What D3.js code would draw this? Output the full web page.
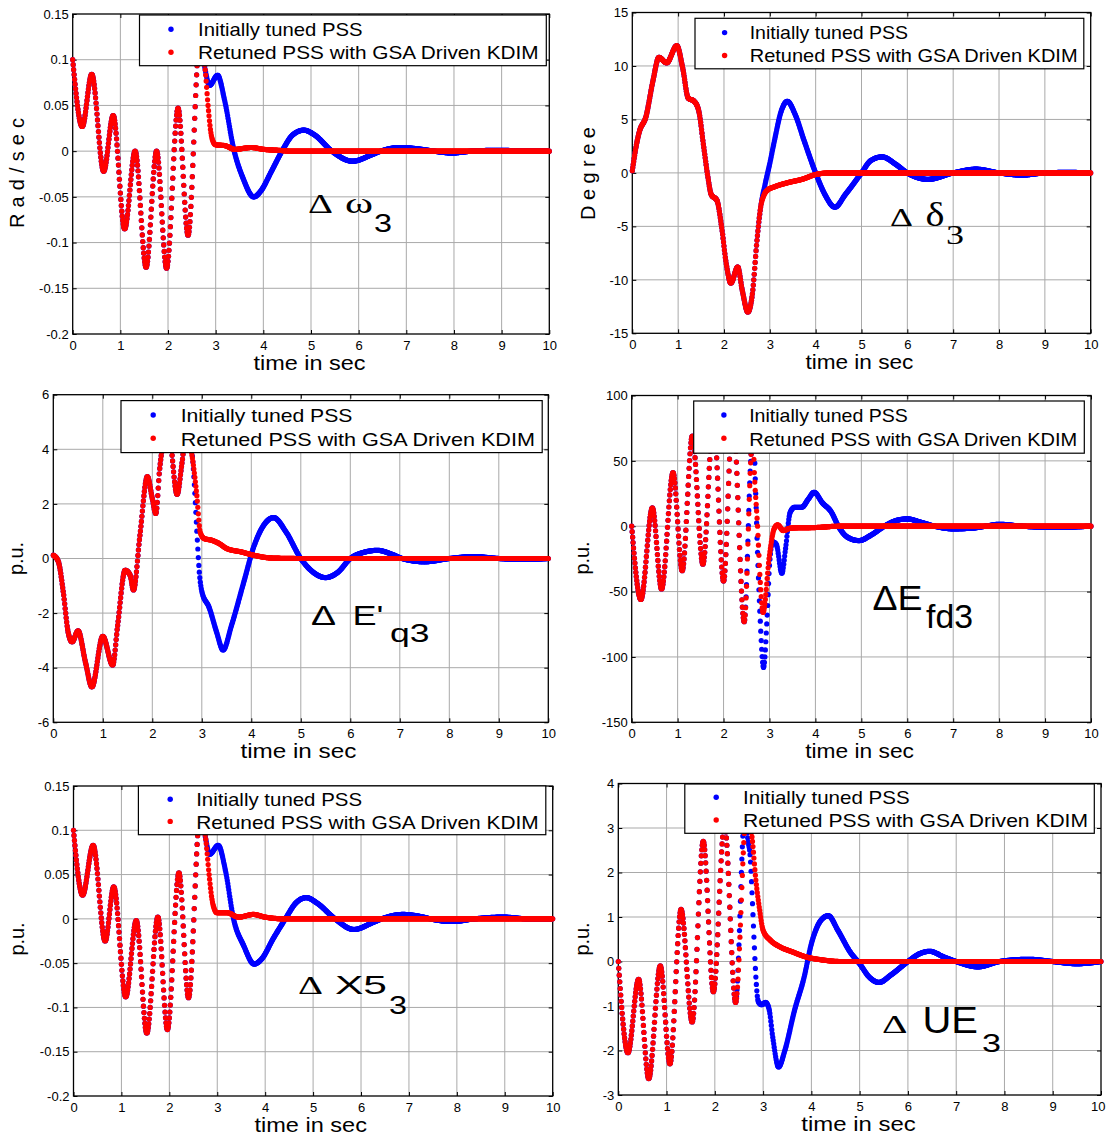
<!DOCTYPE html>
<html>
<head>
<meta charset="utf-8">
<script src="https://cdn.jsdelivr.net/npm/d3@7"></script>
<style>
  html, body { margin: 0; padding: 0; background: #fff; }
  svg { display: block; }
</style>
</head>
<body>
<svg id="fig" width="1106" height="1138"></svg>
<script>
// ---------------------------------------------------------------------------
// Machine-3 responses: initially tuned PSS vs. retuned PSS (GSA driven KDIM).
// Each response is given as [time (s), value] key points; both controllers
// share the same trajectory until the retuned stabiliser takes effect.
// ---------------------------------------------------------------------------
const seriesNames = ["Initially tuned PSS", "Retuned PSS with GSA Driven KDIM"];
const timeTicks = [0, 1, 2, 3, 4, 5, 6, 7, 8, 9, 10];

// Δω3 (rad/s)
const omegaTicks = [-0.2, -0.15, -0.1, -0.05, 0, 0.05, 0.1, 0.15];
const omegaCommon = [
  [0, 0.1], [0.2, 0.027], [0.4, 0.084], [0.65, -0.022], [0.85, 0.039], [1.09, -0.085],
  [1.31, 0.0], [1.54, -0.127], [1.76, 0.0], [1.97, -0.128], [2.21, 0.047], [2.42, -0.092],
  [2.67, 0.125], [2.78, 0.089]
];
const omegaInitialTail = [
  [2.87, 0.072], [3.04, 0.083], [3.19, 0.055], [3.38, 0.002], [3.57, -0.029], [3.8, -0.05],
  [3.94, -0.044], [4.17, -0.022], [4.39, 0], [4.62, 0.018], [4.85, 0.023], [5.07, 0.018],
  [5.44, 0], [5.87, -0.011], [6.27, -0.004], [6.46, 0], [6.87, 0.004], [7.32, 0.002],
  [7.58, 0], [7.96, -0.002], [8.37, 0], [8.97, 0.001], [9.5, 0], [10, 0]
];
const omegaRetunedTail = [
  [2.84, 0.05], [2.9, 0.02], [2.95, 0.01], [3.0, 0.007], [3.2, 0.006], [3.4, 0.002],
  [3.75, 0.004], [4.0, 0.002], [4.3, 0.001], [4.6, 0], [10, 0]
];

// Δδ3 (degree)
const deltaTicks = [-15, -10, -5, 0, 5, 10, 15];
const deltaCommon = [
  [0, 0.2], [0.08, 2.4], [0.15, 3.8], [0.3, 5.3], [0.45, 8.6], [0.58, 10.8], [0.75, 10.3],
  [0.97, 11.9], [1.1, 9.8], [1.22, 7.0], [1.35, 6.7], [1.45, 5.8], [1.55, 2.7], [1.65, -0.4],
  [1.72, -2.0], [1.85, -2.6], [1.95, -5.1], [2.05, -8.5], [2.15, -10.3], [2.3, -8.8],
  [2.4, -11.0], [2.52, -13.0], [2.62, -11.3], [2.72, -6.3], [2.8, -3.2]
];
const deltaInitialTail = [
  [2.9, -1.0], [3.0, 0.9], [3.1, 3.0], [3.25, 5.8], [3.38, 6.7], [3.55, 5.5], [3.75, 3.0],
  [4.0, 0], [4.2, -2.0], [4.42, -3.2], [4.65, -2.0], [5.0, 0], [5.2, 1.15], [5.45, 1.5],
  [5.75, 0.8], [6.0, 0], [6.45, -0.6], [7.0, 0], [7.5, 0.35], [8.0, 0], [8.5, -0.2],
  [9.0, 0], [9.5, 0.05], [10, 0]
];
const deltaRetunedTail = [
  [2.87, -2.1], [2.95, -1.6], [3.1, -1.3], [3.4, -0.9], [3.7, -0.6], [4.0, -0.15],
  [4.3, 0], [10, 0]
];

// ΔE'q3 (p.u.)
const eqTicks = [-6, -4, -2, 0, 2, 4, 6];
const eqCommon = [
  [0, 0.12], [0.1, -0.1], [0.2, -1.2], [0.3, -2.7], [0.38, -3.05], [0.5, -2.65], [0.65, -3.8],
  [0.78, -4.7], [1.0, -2.85], [1.2, -3.9], [1.3, -2.45], [1.45, -0.43], [1.55, -0.6],
  [1.62, -1.15], [1.75, 0.85], [1.9, 3.0], [2.0, 2.2], [2.07, 1.65], [2.15, 3.3],
  [2.32, 4.8], [2.5, 2.35], [2.6, 3.5], [2.68, 4.6]
];
const eqInitialTail = [
  [2.8, 3.9], [2.85, 2.7], [2.9, 1.0], [2.95, -0.5], [3.0, -1.2], [3.15, -1.8], [3.3, -2.7],
  [3.43, -3.35], [3.6, -2.45], [3.85, -0.85], [4.05, 0.43], [4.25, 1.22], [4.45, 1.5],
  [4.7, 0.98], [5.0, 0], [5.25, -0.5], [5.5, -0.7], [5.75, -0.5], [6.0, 0], [6.3, 0.24],
  [6.55, 0.3], [6.85, 0.15], [7.05, 0], [7.5, -0.12], [8.0, 0], [8.5, 0.07], [9.0, 0],
  [9.5, -0.03], [10, 0]
];
const eqRetunedTail = [
  [2.8, 3.8], [2.9, 2.3], [2.97, 0.95], [3.05, 0.73], [3.2, 0.67], [3.35, 0.55], [3.5, 0.37],
  [3.8, 0.24], [4.1, 0.1], [4.4, 0.02], [5, 0], [10, 0]
];

// ΔEfd3 (p.u.)
const efdTicks = [-150, -100, -50, 0, 50, 100];
const efdCommon = [
  [0, 0], [0.2, -56], [0.45, 14], [0.65, -48], [0.9, 41], [1.1, -34], [1.32, 69],
  [1.55, -29], [1.78, 82], [2.0, -42], [2.2, 88], [2.45, -73], [2.6, 55]
];
const efdInitialTail = [
  [2.65, 70], [2.7, 25], [2.74, -20], [2.79, -65], [2.87, -108], [2.95, -68], [3.0, -30],
  [3.07, -12], [3.15, -14], [3.27, -36], [3.35, -17], [3.45, 10.7], [3.55, 14.5], [3.7, 14.5],
  [3.85, 21], [3.97, 26], [4.15, 18], [4.35, 10.7], [4.5, 0], [4.7, -8.4], [4.95, -11],
  [5.2, -7], [5.5, 0], [5.75, 4.3], [6.0, 5.6], [6.3, 3], [6.6, 0], [7.0, -2], [7.4, -1.5],
  [7.7, 0], [8.0, 1.5], [8.5, 0], [9.2, -0.8], [10, 0]
];
const efdRetunedTail = [
  [2.635, 72], [2.67, 41], [2.74, 0], [2.8, -43], [2.86, -66], [3.0, -22], [3.1, -2],
  [3.18, 1], [3.3, -3.3], [3.45, -1.5], [3.6, -1.2], [4.0, -1], [4.5, 0], [10, 0]
];

// ΔX5_3 (p.u.)
const x5Ticks = [-0.2, -0.15, -0.1, -0.05, 0, 0.05, 0.1, 0.15];
const x5Common = [
  [0, 0.1], [0.19, 0.027], [0.41, 0.083], [0.66, -0.025], [0.84, 0.036], [1.09, -0.088],
  [1.31, -0.002], [1.53, -0.129], [1.76, 0.002], [1.96, -0.125], [2.2, 0.052], [2.4, -0.089],
  [2.65, 0.125], [2.76, 0.09]
];
const x5InitialTail = [
  [2.84, 0.073], [3.02, 0.083], [3.17, 0.055], [3.34, 0.0], [3.55, -0.03], [3.77, -0.051],
  [3.93, -0.045], [4.17, -0.022], [4.42, 0], [4.64, 0.018], [4.86, 0.024], [5.08, 0.018],
  [5.46, 0], [5.85, -0.012], [6.25, -0.004], [6.43, 0], [6.87, 0.005], [7.3, 0.002],
  [7.45, 0], [7.91, -0.003], [8.36, 0], [8.96, 0.002], [9.5, 0], [10, 0]
];
const x5RetunedTail = [
  [2.83, 0.05], [2.89, 0.022], [2.94, 0.011], [2.99, 0.007], [3.2, 0.007], [3.45, 0.002],
  [3.75, 0.005], [4.0, 0.002], [4.4, 0], [10, 0]
];

// ΔUE3 (p.u.)
const ueTicks = [-3, -2, -1, 0, 1, 2, 3, 4];
const ueCommon = [
  [0, 0], [0.2, -2.05], [0.42, -0.4], [0.63, -2.63], [0.87, -0.1], [1.07, -2.3], [1.3, 1.17],
  [1.53, -1.36], [1.76, 2.7], [1.97, -0.68], [2.2, 3.1], [2.43, -0.92]
];
const ueInitialTail = [
  [2.62, 3.3], [2.69, 2.69], [2.73, 2.4], [2.78, 1.3], [2.81, 0.55], [2.85, -0.35],
  [2.9, -0.9], [2.97, -0.97], [3.05, -0.92], [3.12, -1.05], [3.2, -1.7], [3.32, -2.37],
  [3.45, -2.0], [3.65, -1.1], [3.85, -0.35], [4.0, 0.4], [4.2, 0.93], [4.35, 1.03],
  [4.55, 0.7], [4.8, 0.22], [5.0, -0.05], [5.2, -0.35], [5.4, -0.47], [5.65, -0.3],
  [6.0, 0], [6.25, 0.18], [6.45, 0.23], [6.75, 0.1], [7.0, 0], [7.45, -0.12], [7.9, 0],
  [8.5, 0.05], [9.0, 0], [9.5, -0.05], [10, 0]
];
const ueRetunedTail = [
  [2.66, 3.4], [2.77, 2.8], [2.85, 1.83], [2.93, 1.15], [3.0, 0.7], [3.15, 0.48], [3.35, 0.33],
  [3.6, 0.22], [3.9, 0.1], [4.2, 0.04], [4.6, 0], [10, 0]
];

// ---------------------------------------------------------------------------
// Figure layout (pixels) and styling
// ---------------------------------------------------------------------------
const SANS = "'Liberation Sans', Arial, Helvetica, sans-serif";
const SERIF = "'Liberation Serif', 'Times New Roman', Times, serif";
const COLORS = ["#0000ff", "#ff0000"];
const GRID = "#a9a9a9";
const DT = 0.01;          // solver output step, one marker per step
const DOT_R = 2.6;
const FIG_W = 1106;

const panels = [
  {
    ticks: omegaTicks,
    series: [omegaCommon.concat(omegaInitialTail), omegaCommon.concat(omegaRetunedTail)],
    box: { L: 72.7, R: 549.3, T: 14, B: 334 },
    ylabel: { text: "Rad/sec", x: 23.5, y: 173, len: 110 },
    xtitle: { cx: 309.5, w: 112 },
    legend: { x0: 139.5, y0: 15, x1: 546.3, y1: 65.7, mx: 171, my: [29.3, 52.3], tx: 198, ty: [36, 59.3], tw: [164.6, 340.6] },
    note: [
      { t: "\u0394", f: SERIF, s: 27, x: 308, y: 213, w: 25 },
      { t: "\u03c9", f: SERIF, s: 30, x: 345, y: 213, w: 28 },
      { t: "3", f: SANS, s: 26, x: 374, y: 232, w: 18 }
    ]
  },
  {
    ticks: deltaTicks,
    series: [deltaCommon.concat(deltaInitialTail), deltaCommon.concat(deltaRetunedTail)],
    box: { L: 632.3, R: 1090.7, T: 12.5, B: 333.3 },
    ylabel: { text: "Degree", x: 595, y: 173.5, len: 93 },
    xtitle: { cx: 859.4, w: 108 },
    legend: { x0: 695, y0: 18.3, x1: 1083.8, y1: 68.8, mx: 724.6, my: [32.6, 55.5], tx: 749.7, ty: [39.2, 61.5], tw: [158.4, 327.9] },
    note: [
      { t: "\u0394", f: SERIF, s: 26, x: 890, y: 226, w: 23 },
      { t: "\u03b4", f: SERIF, s: 33, x: 925.5, y: 226, w: 19 },
      { t: "3", f: SERIF, s: 28, x: 946, y: 244, w: 18 }
    ]
  },
  {
    ticks: eqTicks,
    series: [eqCommon.concat(eqInitialTail), eqCommon.concat(eqRetunedTail)],
    box: { L: 53.3, R: 548.3, T: 394.7, B: 722.3 },
    ylabel: { text: "p.u.", x: 23, y: 558.5, len: 33 },
    xtitle: { cx: 298.4, w: 116 },
    legend: { x0: 121, y0: 400.6, x1: 542.2, y1: 452.6, mx: 153.2, my: [415, 438.3], tx: 180.7, ty: [422.3, 445.6], tw: [171.8, 354.3] },
    note: [
      { t: "\u0394", f: SANS, s: 27, x: 311, y: 625, w: 25 },
      { t: "E'", f: SANS, s: 27, x: 352.5, y: 625, w: 31 },
      { t: "q3", f: SANS, s: 25, x: 390, y: 642, w: 39.5 }
    ]
  },
  {
    ticks: efdTicks,
    series: [efdCommon.concat(efdInitialTail), efdCommon.concat(efdRetunedTail)],
    box: { L: 631.7, R: 1091, T: 395.5, B: 722.3 },
    ylabel: { text: "p.u.", x: 589, y: 558, len: 33 },
    xtitle: { cx: 859.6, w: 108.7 },
    legend: { x0: 693.7, y0: 401, x1: 1084.3, y1: 453.2, mx: 723.9, my: [415, 438.2], tx: 749.2, ty: [422.3, 445.9], tw: [158.7, 328.1] },
    note: [
      { t: "\u0394E", f: SANS, s: 35, x: 872.5, y: 610, w: 50 },
      { t: "fd3", f: SANS, s: 33, x: 926, y: 628, w: 47 }
    ]
  },
  {
    ticks: x5Ticks,
    series: [x5Common.concat(x5InitialTail), x5Common.concat(x5RetunedTail)],
    box: { L: 73.5, R: 552.7, T: 786, B: 1096 },
    ylabel: { text: "p.u.", x: 23.5, y: 939, len: 33 },
    xtitle: { cx: 310.7, w: 112.4 },
    legend: { x0: 138.4, y0: 785.9, x1: 545.8, y1: 834.7, mx: 170.2, my: [799.2, 821.4], tx: 196.2, ty: [805.8, 828.7], tw: [165.9, 342.5] },
    note: [
      { t: "\u0394", f: SERIF, s: 26, x: 298, y: 994, w: 25 },
      { t: "X5", f: SANS, s: 26, x: 335, y: 994, w: 52 },
      { t: "3", f: SANS, s: 26, x: 389, y: 1013.7, w: 18 }
    ]
  },
  {
    ticks: ueTicks,
    series: [ueCommon.concat(ueInitialTail), ueCommon.concat(ueRetunedTail)],
    box: { L: 618.3, R: 1101, T: 783.5, B: 1095 },
    ylabel: { text: "p.u.", x: 589, y: 939, len: 33 },
    xtitle: { cx: 858.5, w: 114.3 },
    legend: { x0: 684.8, y0: 784, x1: 1094.3, y1: 833.3, mx: 716.2, my: [797.3, 820], tx: 743, ty: [804, 827.3], tw: [166.6, 345] },
    note: [
      { t: "\u0394", f: SERIF, s: 25, x: 882, y: 1033, w: 25.5 },
      { t: "UE", f: SANS, s: 36, x: 922.5, y: 1033, w: 55.5 },
      { t: "3", f: SANS, s: 26, x: 982, y: 1052, w: 19 }
    ]
  }
];

// ---------------------------------------------------------------------------
// Helpers
// ---------------------------------------------------------------------------
function bez(p0, p1, p2, p3, u) {
  const v = 1 - u;
  return v * v * v * p0 + 3 * v * v * u * p1 + 3 * v * u * u * p2 + u * u * u * p3;
}

// Trace the monotone curve through the key points and return marker
// positions at every solver step along it.
function markersAlongCurve(points, x, y) {
  const segs = [];
  let px = 0, py = 0;
  const ctx = {
    moveTo(a, b) { px = a; py = b; },
    lineTo(a, b) {
      segs.push([px, py, px + (a - px) / 3, py + (b - py) / 3, px + 2 * (a - px) / 3, py + 2 * (b - py) / 3, a, b]);
      px = a; py = b;
    },
    bezierCurveTo(c1x, c1y, c2x, c2y, a, b) {
      segs.push([px, py, c1x, c1y, c2x, c2y, a, b]);
      px = a; py = b;
    },
    closePath() {}
  };
  d3.line().x(d => x(d[0])).y(d => y(d[1])).curve(d3.curveMonotoneX).context(ctx)(points);

  const [t0, t1] = x.domain();
  const n = Math.round((t1 - t0) / DT);
  const out = [];
  let k = 0;
  for (let i = 0; i <= n; i++) {
    const X = x(t0 + i * DT);
    while (k < segs.length - 1 && segs[k][6] < X) k++;
    const s = segs[k];
    let lo = 0, hi = 1;
    for (let it = 0; it < 28; it++) {
      const mid = (lo + hi) / 2;
      if (bez(s[0], s[2], s[4], s[6], mid) < X) lo = mid; else hi = mid;
    }
    const u = (lo + hi) / 2;
    out.push([X, bez(s[1], s[3], s[5], s[7], u)]);
  }
  return out;
}

const fmt = v => String(+v.toFixed(3));

// ---------------------------------------------------------------------------
// Drawing
// ---------------------------------------------------------------------------
const svg = d3.select("#fig");
svg.append("rect").attr("width", FIG_W).attr("height", 1138).attr("fill", "#fff");

panels.forEach(p => {
  const { L, R, T, B } = p.box;
  const x = d3.scaleLinear().domain([0, 10]).range([L, R]);
  const y = d3.scaleLinear().domain(d3.extent(p.ticks)).range([B, T]);
  const g = svg.append("g");

  // grid
  const grid = g.append("g").attr("stroke", GRID).attr("stroke-width", 1);
  grid.selectAll("line.gx").data(timeTicks.slice(1, -1)).join("line")
    .attr("x1", d => x(d)).attr("x2", d => x(d)).attr("y1", T).attr("y2", B);
  grid.selectAll("line.gy").data(p.ticks.slice(1, -1)).join("line")
    .attr("y1", d => y(d)).attr("y2", d => y(d)).attr("x1", L).attr("x2", R);

  // axes with inward ticks on all four sides
  const ax = (axis, tx, ty) => {
    const a = g.append("g").attr("transform", `translate(${tx},${ty})`).call(axis);
    a.select(".domain").remove();
    a.attr("font-family", SANS).attr("font-size", 13);
    a.selectAll("text").attr("fill", "#000");
    return a;
  };
  const xb = ax(d3.axisBottom(x).tickValues(timeTicks).tickFormat(fmt).tickSizeInner(-4).tickSizeOuter(0).tickPadding(6.5), 0, B);
  ax(d3.axisLeft(y).tickValues(p.ticks).tickFormat(fmt).tickSizeInner(-4).tickSizeOuter(0).tickPadding(4), L, 0);
  ax(d3.axisTop(x).tickValues(timeTicks).tickFormat("").tickSizeInner(-4).tickSizeOuter(0), 0, T);
  ax(d3.axisRight(y).tickValues(p.ticks).tickFormat("").tickSizeInner(-4).tickSizeOuter(0), R, 0);

  // keep the last time label inside the figure edge
  xb.selectAll(".tick").each(function (d) {
    const t = d3.select(this).select("text");
    const w = t.node().getComputedTextLength();
    if (x(d) + w / 2 > FIG_W - 1) {
      t.attr("text-anchor", "end").attr("x", FIG_W - 1 - x(d));
    }
  });

  // frame
  g.append("rect").attr("x", L).attr("y", T).attr("width", R - L).attr("height", B - T)
    .attr("fill", "none").attr("stroke", "#000").attr("stroke-width", 1.3);

  // responses: initially tuned first, retuned on top
  p.series.forEach((pts, si) => {
    const marks = markersAlongCurve(pts, x, y);
    g.append("g").attr("fill", COLORS[si])
      .selectAll("circle").data(marks).join("circle")
      .attr("cx", d => d[0]).attr("cy", d => d[1]).attr("r", DOT_R);
  });

  // axis titles
  g.append("text").text("time in sec")
    .attr("x", p.xtitle.cx).attr("y", B + 36).attr("text-anchor", "middle")
    .attr("font-family", SANS).attr("font-size", 19.5)
    .attr("textLength", p.xtitle.w).attr("lengthAdjust", "spacingAndGlyphs");
  g.append("text").text(p.ylabel.text)
    .attr("transform", `translate(${p.ylabel.x},${p.ylabel.y}) rotate(-90)`)
    .attr("text-anchor", "middle").attr("font-family", SANS).attr("font-size", 20)
    .attr("textLength", p.ylabel.len).attr("lengthAdjust", "spacing");

  // legend
  const lg = p.legend;
  const leg = g.append("g");
  leg.append("rect").attr("x", lg.x0).attr("y", lg.y0)
    .attr("width", lg.x1 - lg.x0).attr("height", lg.y1 - lg.y0)
    .attr("fill", "#fff").attr("stroke", "#000").attr("stroke-width", 1.2);
  seriesNames.forEach((name, i) => {
    leg.append("circle").attr("cx", lg.mx).attr("cy", lg.my[i]).attr("r", 2.7).attr("fill", COLORS[i]);
    leg.append("text").text(name).attr("x", lg.tx).attr("y", lg.ty[i])
      .attr("font-family", SANS).attr("font-size", 18.5)
      .attr("textLength", lg.tw[i]).attr("lengthAdjust", "spacingAndGlyphs");
  });

  // variable annotation inside the axes
  p.note.forEach(n => {
    g.append("text").text(n.t).attr("x", n.x).attr("y", n.y)
      .attr("font-family", n.f).attr("font-size", n.s)
      .attr("textLength", n.w).attr("lengthAdjust", "spacingAndGlyphs");
  });
});
</script>
</body>
</html>
